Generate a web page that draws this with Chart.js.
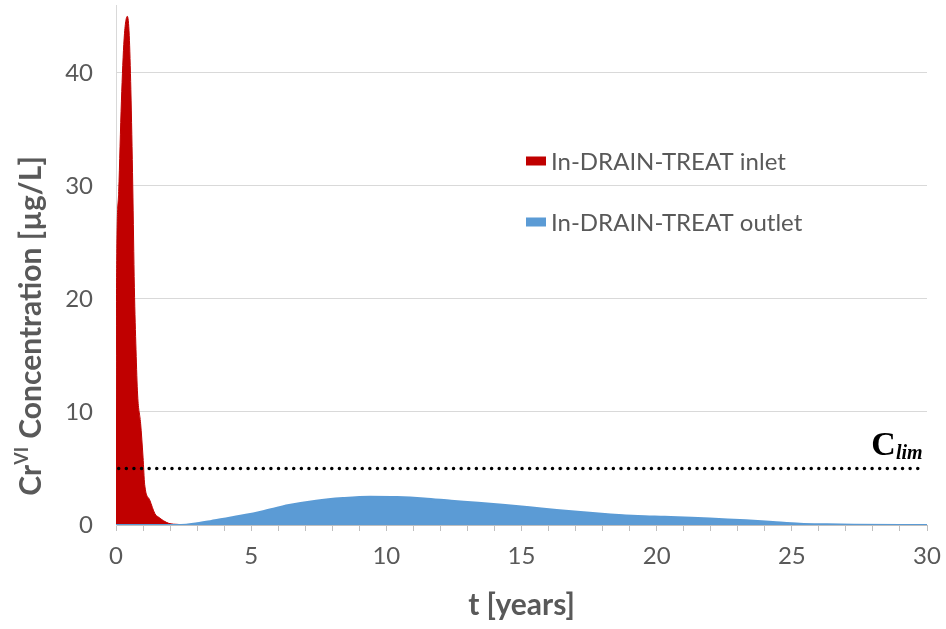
<!DOCTYPE html>
<html><head><meta charset="utf-8">
<script src="https://cdn.jsdelivr.net/npm/chart.js@4"></script>
<style>html,body{margin:0;padding:0;background:#fff}#w{width:946px;height:629px;position:relative}</style>
</head><body><div id="w"><canvas id="c"></canvas></div>
<script>
// ---- data ----
const tIn  = [0, 0.01, 0.03, 0.1, 0.2, 0.3, 0.42, 0.49, 0.55, 0.62, 0.68, 0.74, 0.8, 0.91, 1.0, 1.06, 1.25, 1.44, 1.57, 1.95, 2.3, 2.6, 3, 30];
const cIn  = [3.7, 15, 24, 29.5, 37.5, 43, 45.0, 43.3, 38.5, 30, 21, 15.5, 11.5, 9, 6, 3.6, 2.2, 1.0, 0.7, 0.15, 0.05, 0, 0, 0];
const tOut = [0, 2.4, 3.0, 3.4, 4.2, 4.8, 5.4, 6.4, 7.4, 8.4, 9.4, 10.4, 11.4, 12.4, 13.4, 14.4, 15.3, 16.3, 17.3, 18.3, 19.3, 20.3, 21.3, 22.3, 23.3, 24.3, 25.3, 26.3, 27.3, 30];
const cOut = [0, 0, 0.15, 0.3, 0.65, 0.9, 1.2, 1.76, 2.15, 2.38, 2.5, 2.47, 2.35, 2.15, 1.97, 1.76, 1.56, 1.32, 1.12, 0.94, 0.8, 0.73, 0.65, 0.53, 0.41, 0.26, 0.12, 0.06, 0.02, 0];
const limT = [0.1, 29.8];
const limC = [5, 5];
const xTicks = [0, 5, 10, 15, 20, 25, 30];
const yTicks = [0, 10, 20, 30, 40];
const seriesNames = ['In-DRAIN-TREAT inlet', 'In-DRAIN-TREAT outlet'];
const xTitle = 't [years]';
const yTitleParts = ['Cr', 'VI', ' Concentration [\u00b5g/L]'];
const limLabel = ['C', 'lim'];

const RED = '#C00000', BLUE = '#5B9BD5', GREY = '#595959';
const FONT = 'Lato';
const pts = (xs, ys) => xs.map((x, i) => ({x, y: ys[i]}));

const overlay = {
  id: 'overlay',
  afterDraw(chart) {
    const {ctx, chartArea: a, scales: {x, y}} = chart;
    ctx.save();
    // legend
    const items = [[RED, seriesNames[0], 161], [BLUE, seriesNames[1], 222]];
    ctx.font = '24px ' + FONT;
    ctx.textBaseline = 'middle';
    items.forEach(([col, txt, cy]) => {
      ctx.fillStyle = col;
      ctx.fillRect(526, cy - 4.5, 20, 9);
      ctx.fillStyle = GREY;
      ctx.textAlign = 'left';
      ctx.fillText(txt, 551, cy + 1);
    });
    // x title
    ctx.font = 'bold 30px ' + FONT;
    ctx.textAlign = 'center';
    ctx.fillStyle = GREY;
    ctx.fillText(xTitle, (a.left + a.right) / 2, 605);
    // y title with superscript
    ctx.translate(31, 326);
    ctx.rotate(-Math.PI / 2);
    const big = 'bold 30px ' + FONT, small = 'bold 18px ' + FONT;
    ctx.font = big; const w1 = ctx.measureText(yTitleParts[0]).width;
    const w3 = ctx.measureText(yTitleParts[2]).width;
    ctx.font = small; const w2 = ctx.measureText(yTitleParts[1]).width + 1;
    let sx = -(w1 + w2 + w3) / 2;
    ctx.textAlign = 'left';
    ctx.font = big; ctx.fillText(yTitleParts[0], sx, 0); sx += w1;
    ctx.font = small; ctx.fillText(yTitleParts[1], sx, -9); sx += w2;
    ctx.font = big; ctx.fillText(yTitleParts[2], sx, 0);
    ctx.setTransform(1, 0, 0, 1, 0, 0);
    // C_lim label
    const by = y.getPixelForValue(limC[0]) - 13;
    ctx.fillStyle = '#000';
    ctx.textBaseline = 'alphabetic';
    ctx.font = 'bold 34px "Liberation Serif"';
    const wc = ctx.measureText(limLabel[0]).width;
    ctx.font = 'bold italic 20px "Liberation Serif"';
    const wl = ctx.measureText(limLabel[1]).width;
    const lx = x.getPixelForValue(limT[1]) - wc - wl + 1;
    ctx.font = 'bold 34px "Liberation Serif"';
    ctx.fillText(limLabel[0], lx, by);
    ctx.font = 'bold italic 20px "Liberation Serif"';
    ctx.fillText(limLabel[1], lx + wc, by + 4);
    ctx.restore();
  }
};

new Chart(document.getElementById('c'), {
  type: 'line',
  data: {
    datasets: [
      {label: 'Clim', data: pts(limT, limC), borderColor: '#000', borderWidth: 3.5,
       borderDash: [0.01, 7.6], borderCapStyle: 'round', fill: false, pointRadius: 0, order: 0},
      {label: seriesNames[1], data: pts(tOut, cOut), borderColor: BLUE, backgroundColor: BLUE,
       borderWidth: 2, fill: 'origin', pointRadius: 0, cubicInterpolationMode: 'monotone', order: 1},
      {label: seriesNames[0], data: pts(tIn, cIn), borderColor: RED, backgroundColor: RED,
       borderWidth: 1, fill: 'origin', pointRadius: 0, cubicInterpolationMode: 'monotone', order: 2}
    ]
  },
  options: {
    responsive: true, maintainAspectRatio: false, animation: false,
    layout: {padding: {left: 0, right: 19, top: 5, bottom: 0}},
    plugins: {legend: {display: false}, tooltip: {enabled: false}},
    scales: {
      x: {
        type: 'linear', min: 0, max: 30,
        afterBuildTicks: s => { const t = []; for (let v = 0; v <= 30; v++) t.push({value: v}); s.ticks = t; },
        ticks: {autoSkip: false, maxRotation: 0, padding: 11, color: GREY,
                font: {family: FONT, size: 24},
                callback: v => xTicks.includes(v) ? String(v) : ''},
        grid: {drawOnChartArea: false, color: '#bfbfbf', tickLength: 6},
        border: {color: '#bfbfbf', width: 1},
        afterFit: s => { s.height = 104; s.paddingLeft = 0; s.paddingRight = 0; }
      },
      y: {
        min: 0, max: 46,
        afterBuildTicks: s => { s.ticks = yTicks.map(v => ({value: v})); },
        ticks: {padding: 23, color: GREY, font: {family: FONT, size: 24}},
        grid: {color: '#d9d9d9', drawTicks: false},
        border: {color: '#d9d9d9', width: 1},
        afterFit: s => { s.width = 116; s.paddingTop = 0; s.paddingBottom = 0; }
      }
    }
  },
  plugins: [overlay]
});
</script></body></html>
